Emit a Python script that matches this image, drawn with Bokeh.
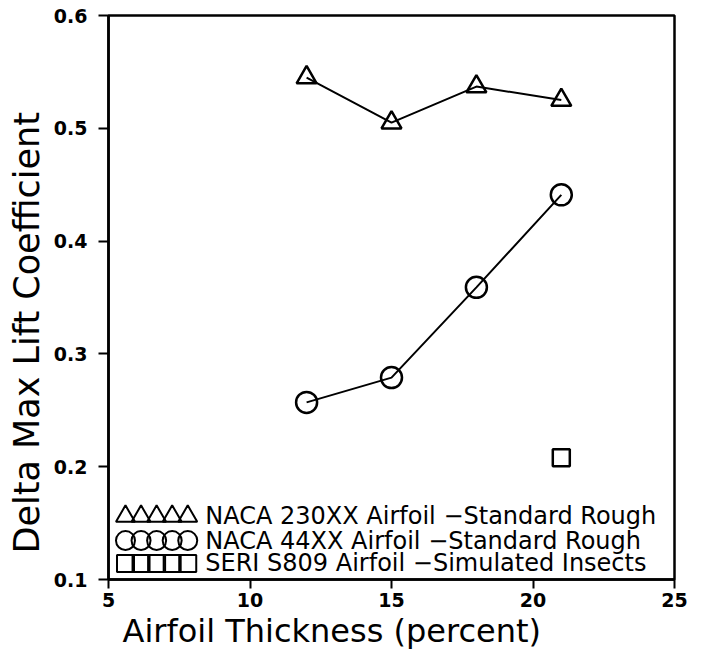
from bokeh.plotting import figure
from bokeh.models import FixedTicker, Range1d, Title
from bokeh.core.properties import value
from bokeh.embed import file_html
from bokeh.resources import INLINE

# ---- data ----
thickness = [12, 15, 18, 21]
naca230_dcl = [0.545, 0.505, 0.537, 0.525]
naca44_dcl = [0.257, 0.279, 0.359, 0.441]
seri_thickness = [21]
seri_dcl = [0.208]

x_ticks = [5, 10, 15, 20, 25]
y_ticks = [0.1, 0.2, 0.3, 0.4, 0.5, 0.6]
y_tick_labels = ["0.1", "0.2", "0.3", "0.4", "0.5", "0.6"]

x_title = "Airfoil Thickness (percent)"
y_title = "Delta Max Lift Coefficient"
legend_labels = [
    "NACA 230XX Airfoil \u2212Standard Rough",
    "NACA 44XX Airfoil \u2212Standard Rough",
    "SERI S809 Airfoil \u2212Simulated Insects",
]

FONT = "DejaVu Sans"

p = figure(width=702, height=651, output_backend="svg", toolbar_location=None,
           x_range=Range1d(5, 25), y_range=Range1d(0.1, 0.6),
           min_border_left=108, min_border_right=28, min_border_top=15, min_border_bottom=72)
p.background_fill_color = "white"
p.border_fill_color = "white"
p.xgrid.visible = False
p.ygrid.visible = False
p.outline_line_color = "black"
p.outline_line_width = 2.5

for ax in (p.xaxis[0], p.yaxis[0]):
    ax.axis_line_width = 2.5
    ax.axis_line_color = "black"
    ax.major_tick_line_width = 2
    ax.major_tick_in = 0
    ax.minor_tick_line_color = None
    ax.major_label_text_font = FONT
    ax.major_label_text_font_style = "bold"
    ax.major_label_text_font_size = "19px"
    ax.major_label_text_color = "black"

xa = p.xaxis[0]
xa.ticker = FixedTicker(ticks=x_ticks)
xa.major_tick_out = 9
xa.major_label_standoff = 4

ya = p.yaxis[0]
ya.ticker = FixedTicker(ticks=y_ticks)
ya.major_label_overrides = {t: l for t, l in zip(y_ticks, y_tick_labels)}
ya.major_tick_out = 10
ya.major_label_standoff = 11

# axis titles as side titles (allow off-centre placement like the reference)
p.add_layout(Title(text=x_title, align="left", offset=14, standoff=0,
                   text_font=FONT, text_font_size="32px", text_font_style="normal",
                   text_color="black"), "below")
p.add_layout(Title(text=y_title, align="left", offset=26, standoff=8,
                   text_font=FONT, text_font_size="35px", text_font_style="normal",
                   text_color="black"), "left")

# data series
p.line(thickness, naca230_dcl, line_color="black", line_width=2)
p.scatter(thickness, naca230_dcl, marker="triangle", size=20, fill_color=None,
          line_color="black", line_width=2.5)
p.line(thickness, naca44_dcl, line_color="black", line_width=2)
p.scatter(thickness, naca44_dcl, marker="circle", size=21, fill_color=None,
          line_color="black", line_width=2.5)
p.scatter(seri_thickness, seri_dcl, marker="square", size=17, fill_color=None,
          line_color="black", line_width=2.5)

# hand-made legend (layout constants)
leg_x = [5.6 + 0.55 * i for i in range(5)]
leg_rows = [0.156, 0.1345, 0.1142]
leg_markers = [("triangle", 19), ("circle", 19), ("square", 17)]
for (mk, sz), yy in zip(leg_markers, leg_rows):
    p.scatter(leg_x, [yy] * 5, marker=mk, size=sz, fill_color=None,
              line_color="black", line_width=2)
p.text(x=[8.42] * 3, y=leg_rows, text=legend_labels, text_font=value(FONT),
       text_font_size="24px", text_baseline="middle", text_align="left",
       text_color="black")

open("out.html", "w").write(file_html(p, INLINE))
